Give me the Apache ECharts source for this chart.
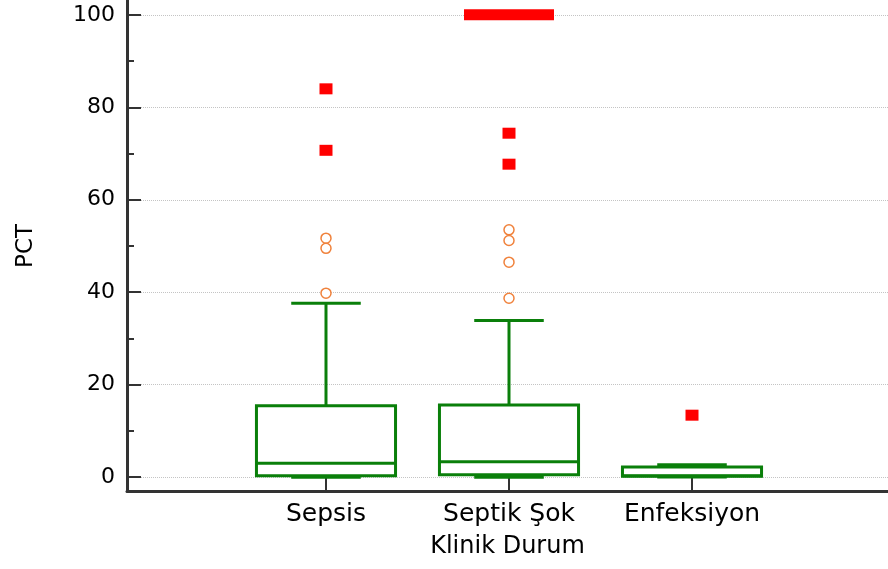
<!DOCTYPE html>
<html>
<head>
<meta charset="utf-8">
<script src="https://cdn.jsdelivr.net/npm/echarts@6/dist/echarts.min.js"></script>
<style>html,body{margin:0;padding:0;background:#fff}#c{width:888px;height:569px}</style>
</head>
<body>
<div id="c"></div>
<script>
// ---- data ----
const CATEGORIES = ['Sepsis', 'Septik Şok', 'Enfeksiyon'];
const CAT_POS = [1, 2, 3];
const BOX_MIN = [0.0, 0.0, 0.05];
const BOX_Q1 = [0.3, 0.5, 0.2];
const BOX_MEDIAN = [3.0, 3.35, 0.3];
const BOX_Q3 = [15.45, 15.6, 2.2];
const BOX_MAX = [37.6, 33.9, 2.7];
const OUTLIERS_SEPSIS = [51.7, 49.5, 39.8];
const OUTLIERS_SEPTIK = [53.5, 51.2, 46.5, 38.7];
const OUTLIERS_ENF = [];
const EXTREME_SEPSIS = [84.0, 70.7];
const EXTREME_SEPTIK = [74.4, 67.7];
const EXTREME_ENF = [13.4];
const CAPPED_SEPTIK = [100];
const Y_TICKS = [0, 20, 40, 60, 80, 100];
const Y_MINOR_TICKS = [10, 30, 50, 70, 90];

// ---- build ----
const GREEN = '#0a7f0a';
const boxData = CAT_POS.map((p, i) => [p, BOX_MIN[i], BOX_Q1[i], BOX_MEDIAN[i], BOX_Q3[i], BOX_MAX[i]]);
const outlierData = [].concat(
  OUTLIERS_SEPSIS.map(v => [1, v]),
  OUTLIERS_SEPTIK.map(v => [2, v]),
  OUTLIERS_ENF.map(v => [3, v])
);
const extremeData = [].concat(
  EXTREME_SEPSIS.map(v => [1, v]),
  EXTREME_SEPTIK.map(v => [2, v]),
  EXTREME_ENF.map(v => [3, v])
);
const cappedData = CAPPED_SEPTIK.map(v => [2, v]);

function renderBox(params, api) {
  const x = api.value(0);
  const p = [1, 2, 3, 4, 5].map(i => api.coord([x, api.value(i)]));
  const cx = p[0][0];
  const yMin = p[0][1], yQ1 = p[1][1], yMed = p[2][1], yQ3 = p[3][1], yMax = p[4][1];
  const bw = api.size([1, 0])[0] * 0.76;
  const st = { stroke: GREEN, lineWidth: 3, fill: null };
  return {
    type: 'group',
    children: [
      { type: 'line', shape: { x1: cx, y1: yQ3, x2: cx, y2: yMax }, style: st },
      { type: 'line', shape: { x1: cx, y1: yQ1, x2: cx, y2: yMin }, style: st },
      { type: 'line', shape: { x1: cx - bw / 4, y1: yMax, x2: cx + bw / 4, y2: yMax }, style: st },
      { type: 'line', shape: { x1: cx - bw / 4, y1: yMin, x2: cx + bw / 4, y2: yMin }, style: st },
      { type: 'rect', shape: { x: cx - bw / 2, y: yQ3, width: bw, height: yQ1 - yQ3 }, style: { stroke: GREEN, lineWidth: 3, fill: '#fff' } },
      { type: 'line', shape: { x1: cx - bw / 2, y1: yMed, x2: cx + bw / 2, y2: yMed }, style: st }
    ]
  };
}

const FONT = 'DejaVu Sans';
const GRID = { left: 127, right: 0, top: 1, bottom: 78, containLabel: false };
const chart = echarts.init(document.getElementById('c'), null, { renderer: 'canvas' });
chart.setOption({
  animation: false,
  backgroundColor: '#fff',
  grid: [Object.assign({}, GRID), Object.assign({}, GRID)],
  xAxis: [{
    type: 'value',
    gridIndex: 0,
    min: -0.0874,
    max: 4.071,
    name: 'Klinik Durum',
    nameLocation: 'middle',
    nameGap: 44,
    nameTextStyle: { fontFamily: FONT, fontSize: 24, color: '#000' },
    axisLine: { show: true, onZero: false, lineStyle: { color: '#333', width: 3 } },
    axisTick: { show: true, inside: true, length: 13, customValues: CAT_POS, lineStyle: { color: '#333', width: 2 } },
    axisLabel: {
      customValues: CAT_POS, margin: 11,
      fontFamily: FONT, fontSize: 25, color: '#000',
      formatter: v => CATEGORIES[Math.round(v) - 1] || ''
    },
    splitLine: { show: false }
  }, {
    type: 'value',
    gridIndex: 1,
    min: -0.0874,
    max: 4.071,
    show: false
  }],
  yAxis: [{
    type: 'value',
    gridIndex: 0,
    min: -3,
    max: 103,
    name: 'PCT',
    nameLocation: 'middle',
    nameGap: 89,
    nameTextStyle: { fontFamily: FONT, fontSize: 23, color: '#000' },
    axisLine: { show: true, onZero: false, lineStyle: { color: '#333', width: 3 } },
    axisTick: { show: true, inside: true, length: 14, customValues: Y_TICKS, lineStyle: { color: '#333', width: 2 } },
    axisLabel: { customValues: Y_TICKS, margin: 12, fontFamily: FONT, fontSize: 22, color: '#000' },
    splitLine: { show: true, lineStyle: { color: '#c4c4c4', type: 'dotted', width: 1 } }
  }, {
    type: 'value',
    gridIndex: 1,
    min: -3,
    max: 103,
    position: 'left',
    axisLine: { show: true, onZero: false, lineStyle: { color: '#333', width: 3 } },
    axisTick: { show: true, inside: true, length: 7, customValues: Y_MINOR_TICKS, lineStyle: { color: '#333', width: 2 } },
    axisLabel: { show: false },
    splitLine: { show: false }
  }],
  series: [
    {
      type: 'custom',
      renderItem: renderBox,
      data: boxData,
      encode: { x: 0, y: [1, 2, 3, 4, 5] },
      z: 2
    },
    {
      type: 'scatter',
      data: outlierData,
      symbol: 'circle',
      symbolSize: 10,
      itemStyle: { color: '#fff', borderColor: '#f0823c', borderWidth: 1.5, opacity: 1 },
      z: 3
    },
    {
      type: 'scatter',
      data: extremeData,
      symbol: 'rect',
      symbolSize: [13, 11],
      itemStyle: { color: '#ff0000', opacity: 1 },
      z: 4
    },
    {
      type: 'scatter',
      data: cappedData,
      symbol: 'rect',
      symbolSize: [90, 11],
      itemStyle: { color: '#ff0000', opacity: 1 },
      z: 4
    }
  ]
});
</script>
</body>
</html>
